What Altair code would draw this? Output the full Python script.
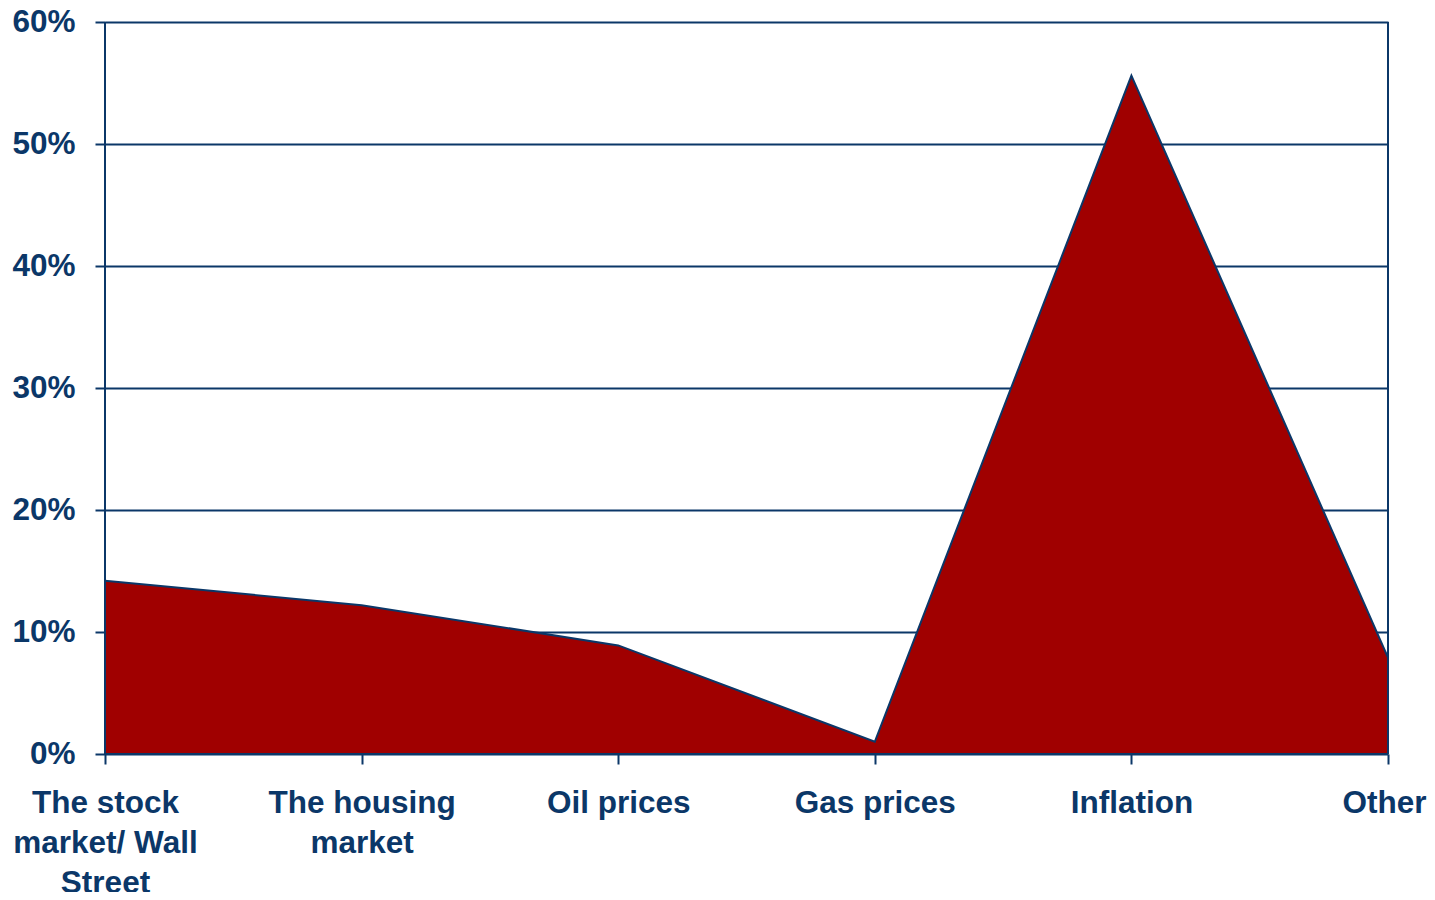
import altair as alt
import pandas as pd

categories = ["The stock market/ Wall Street", "The housing market", "Oil prices",
              "Gas prices", "Inflation", "Other"]
values = [0.142, 0.122, 0.089, 0.010, 0.556, 0.079]

df = pd.DataFrame({"cat": categories, "val": values})

NAVY = "#0b3768"
RED = "#a00000"
W, H = 1283, 732
FONT = "Liberation Sans"
FS = 31.5

label_expr = (
    "datum.value == 'The stock market/ Wall Street' ? ['The stock', 'market/ Wall', 'Street'] : "
    "datum.value == 'The housing market' ? ['The housing', 'market'] : datum.value"
)

x = alt.X("cat:N", sort=categories, title=None,
          scale=alt.Scale(type="point", padding=0),
          axis=alt.Axis(labelAngle=0, labelExpr=label_expr, labelFont=FONT,
                        labelFontSize=FS, labelFontWeight="bold", labelColor=NAVY,
                        labelPadding=23, labelLineHeight=40, tickSize=10,
                        tickColor=NAVY, tickWidth=2, domain=False, grid=False,
                        labelBaseline="top", labelOverlap=False, labelLimit=0,
                        labelOffset={"condition": {"test": "datum.value == 'Other'", "value": -4},
                                     "value": 0}))
y = alt.Y("val:Q", title=None,
          scale=alt.Scale(domain=[0, 0.6], nice=False),
          axis=alt.Axis(format=".0%", values=[0, 0.1, 0.2, 0.3, 0.4, 0.5, 0.6],
                        labelFont=FONT, labelFontSize=FS, labelFontWeight="bold",
                        labelColor=NAVY, labelPadding=20, tickSize=10,
                        tickColor=NAVY, tickWidth=2, grid=True, gridColor=NAVY,
                        gridWidth=2, domain=False))

base = alt.Chart(df)
area = base.mark_area(color=RED, opacity=1).encode(x=x, y=y)
line = base.mark_line(color=NAVY, strokeWidth=2).encode(x=x, y=y)

frame_df = pd.DataFrame({"side": ["edge"]})
left = alt.Chart(frame_df).mark_rule(color=NAVY, strokeWidth=2).encode(
    x=alt.value(0), y=alt.value(0), y2=alt.value(H + 0.5))
right = alt.Chart(frame_df).mark_rule(color=NAVY, strokeWidth=2).encode(
    x=alt.value(W), y=alt.value(0), y2=alt.value(H))
bottom = alt.Chart(frame_df).mark_rule(color=NAVY, strokeWidth=2).encode(
    x=alt.value(0), x2=alt.value(W), y=alt.value(H))

chart = alt.layer(area, line, left, right, bottom).properties(
    width=W, height=H,
    autosize=alt.AutoSizeParams(type="none"),
    padding={"left": 97, "top": 14, "right": 39, "bottom": 138},
).configure_view(stroke=NAVY, strokeWidth=2).configure(background="white")

chart.save("out.html", embed_options={"renderer": "svg", "actions": False})
